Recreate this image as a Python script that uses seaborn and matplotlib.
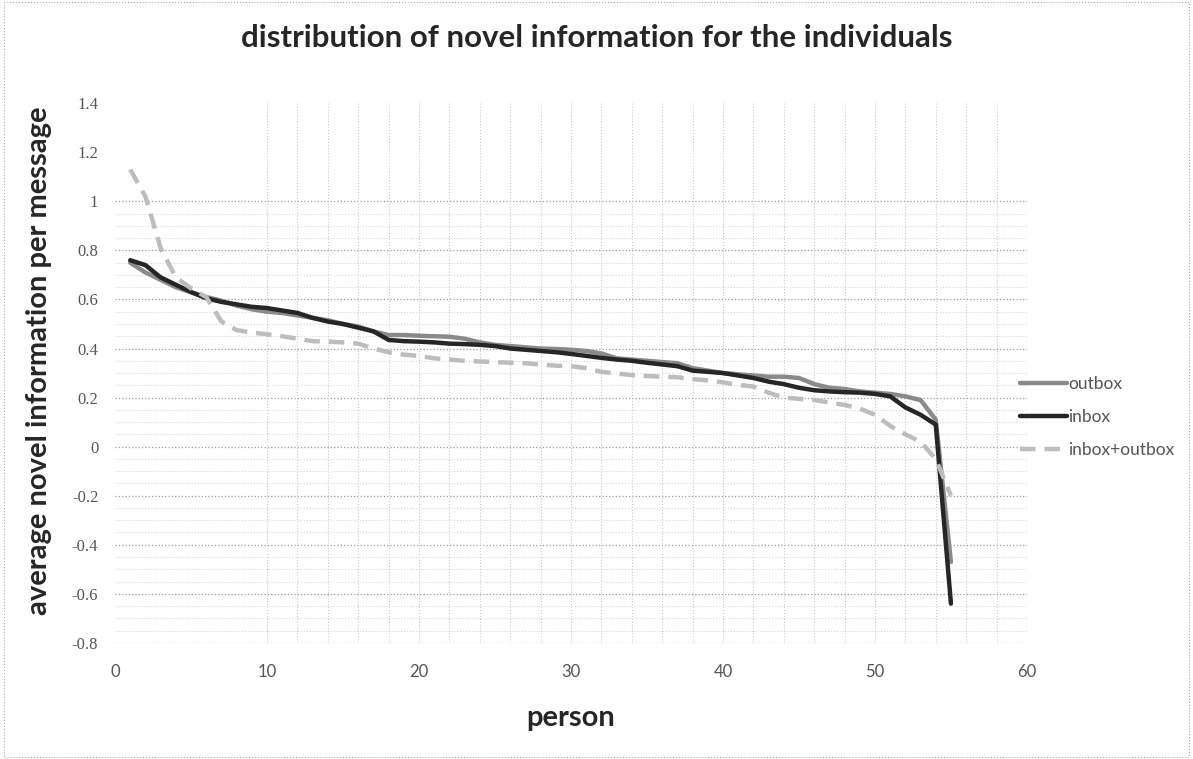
import matplotlib
matplotlib.use("Agg")
import matplotlib.pyplot as plt
import matplotlib.patches as patches
import numpy as np
import pandas as pd
import seaborn as sns

# values, persons 1..55
person = list(range(1, 56))

outbox = [0.75, 0.71, 0.68, 0.65, 0.63, 0.61, 0.595, 0.575, 0.56, 0.55,
          0.545, 0.535, 0.525, 0.515, 0.50, 0.49, 0.47, 0.455, 0.455, 0.452,
          0.45, 0.448, 0.44, 0.425, 0.415, 0.41, 0.405, 0.40, 0.398, 0.395,
          0.39, 0.38, 0.36, 0.355, 0.35, 0.345, 0.34, 0.32, 0.31, 0.30,
          0.295, 0.29, 0.285, 0.285, 0.28, 0.255, 0.24, 0.235, 0.225, 0.22,
          0.215, 0.205, 0.19, 0.11, -0.47]

inbox = [0.76, 0.74, 0.69, 0.66, 0.63, 0.605, 0.59, 0.58, 0.57, 0.565,
         0.555, 0.545, 0.525, 0.51, 0.50, 0.485, 0.47, 0.435, 0.43, 0.428,
         0.425, 0.42, 0.418, 0.415, 0.41, 0.40, 0.395, 0.39, 0.385, 0.378,
         0.37, 0.362, 0.355, 0.35, 0.342, 0.335, 0.328, 0.31, 0.305, 0.30,
         0.29, 0.28, 0.265, 0.255, 0.24, 0.23, 0.225, 0.222, 0.22, 0.215,
         0.205, 0.16, 0.13, 0.09, -0.64]

inbox_outbox = [1.13, 1.02, 0.81, 0.69, 0.645, 0.61, 0.51, 0.475, 0.465, 0.458,
                0.45, 0.44, 0.43, 0.428, 0.425, 0.42, 0.40, 0.385, 0.375, 0.37,
                0.36, 0.355, 0.35, 0.347, 0.345, 0.342, 0.34, 0.335, 0.33, 0.328,
                0.32, 0.305, 0.298, 0.292, 0.288, 0.285, 0.283, 0.275, 0.27, 0.262,
                0.252, 0.245, 0.22, 0.20, 0.195, 0.19, 0.18, 0.17, 0.155, 0.13,
                0.085, 0.05, 0.02, -0.05, -0.2]

series_names = ['outbox', 'inbox', 'inbox+outbox']
y_ticks = [-0.8, -0.6, -0.4, -0.2, 0, 0.2, 0.4, 0.6, 0.8, 1, 1.2, 1.4]
x_ticks = [0, 10, 20, 30, 40, 50, 60]

df = pd.DataFrame({
    'person': person * 3,
    'value': outbox + inbox + inbox_outbox,
    'series': ['outbox'] * 55 + ['inbox'] * 55 + ['inbox+outbox'] * 55,
})

sns.set_style('white')
plt.rcParams['font.family'] = ['Lato', 'DejaVu Sans']

fig = plt.figure(figsize=(11.93, 7.59), dpi=100)
ax = fig.add_axes([0.0964, 0.153, 0.7644, 0.711])

# grid: dotted, horizontal only up to 1.0, vertical every 2 from 10
for v in np.arange(-0.8, 1.001, 0.05):
    major = abs(round(v / 0.2) * 0.2 - v) < 1e-6
    ax.axhline(v, color='#9a9a9a' if major else '#d8d8d8', ls=':',
               lw=0.9 if major else 0.8, zorder=0)
for v in range(10, 61, 2):
    ax.axvline(v, color='#c8c8c8', ls=':', lw=0.8, zorder=0)

palette = {'outbox': '#8a8a8a', 'inbox': '#262626', 'inbox+outbox': '#bdbdbd'}
dashes = {'outbox': '', 'inbox': '', 'inbox+outbox': (3.5, 2.0)}
sns.lineplot(data=df, x='person', y='value', hue='series', style='series',
             hue_order=series_names, style_order=series_names,
             palette=palette, dashes=dashes, linewidth=3.2, ax=ax)

ax.set_xlim(0, 60)
ax.set_ylim(-0.8, 1.4)
ax.set_xticks(x_ticks)
ax.set_yticks(y_ticks)
ax.set_yticklabels([f'{t:g}' for t in y_ticks], family='Liberation Serif')
ax.tick_params(axis='both', length=0, labelsize=12, colors='#555555')
ax.tick_params(axis='x', pad=15)
ax.tick_params(axis='y', pad=12)
for s in ax.spines.values():
    s.set_visible(False)

ax.set_xlabel('person', fontsize=21, fontweight='bold', labelpad=18)
ax.set_ylabel('average novel information per message', fontsize=21,
              fontweight='bold')
ax.yaxis.set_label_coords(-0.069, 0.522)
fig.suptitle('distribution of novel information for the individuals',
             x=0.5, y=0.968, fontsize=22.5, fontweight='bold')

handles, labels = ax.get_legend_handles_labels()
ax.legend(handles, labels, loc='center left', bbox_to_anchor=(1020 / 1193, 1 - 417 / 759),
          bbox_transform=fig.transFigure, frameon=False, fontsize=12.5,
          handlelength=2.7, handletextpad=0.1, labelspacing=1.0,
          borderpad=0, borderaxespad=0, labelcolor='#555555')

fig.patches.append(patches.Rectangle((0.003, 0.003), 0.994, 0.994, transform=fig.transFigure,
                                     fill=False, ec='#aaaaaa', ls=':', lw=0.8))

fig.savefig('out.png', dpi=100)
